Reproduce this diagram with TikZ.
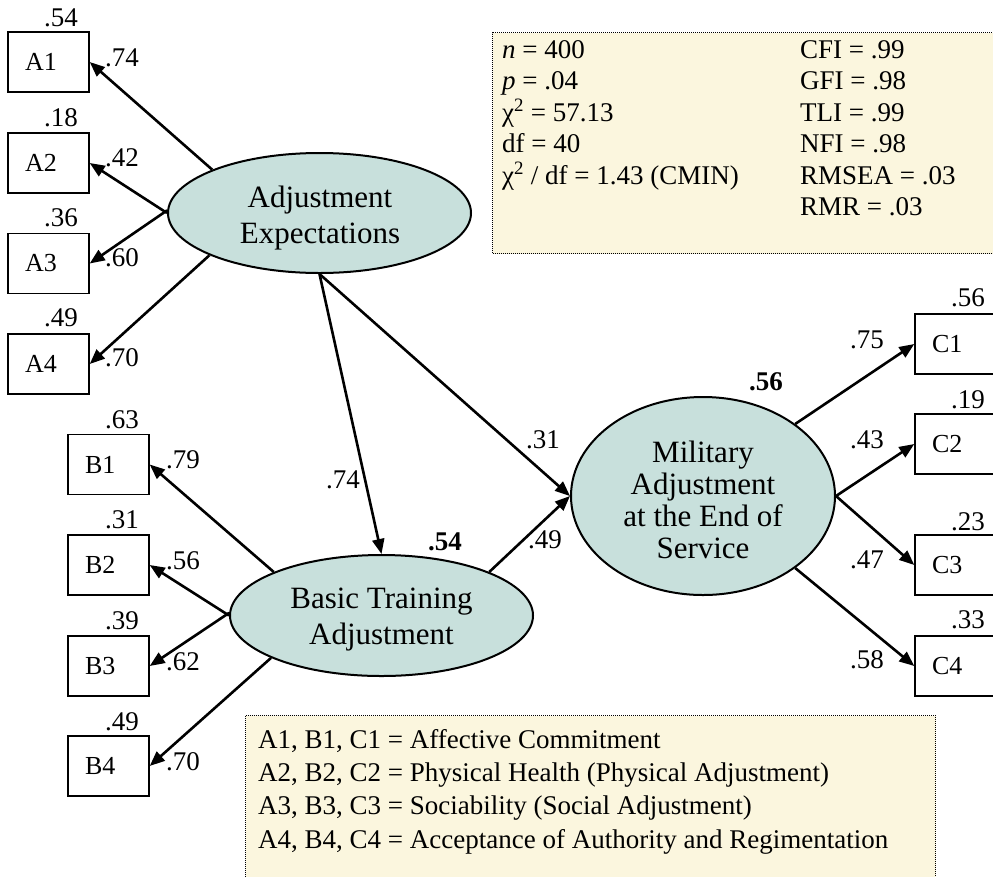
\documentclass[tikz,border=0pt]{standalone}
\usepackage{fontspec}
\setmainfont{Liberation Serif}
\usetikzlibrary{arrows.meta,shapes.geometric}
\definecolor{latfill}{RGB}{200,224,220}
\definecolor{boxfill}{RGB}{251,246,222}
\begin{document}
\begin{tikzpicture}[x=1pt,y=-1pt,
 obs/.style={draw, line width=1.4pt, minimum width=81pt, minimum height=60pt, inner xsep=17pt, inner ysep=0pt, text width=47pt, align=left, font=\fontsize{26}{30}\selectfont},
 lat/.style={ellipse, draw, line width=2pt, fill=latfill, inner sep=0pt},
 lattext/.style={inner sep=0pt, align=center, font=\fontsize{31}{36}\selectfont},
 coef/.style={font=\fontsize{27}{30}\selectfont, inner sep=0pt},
 bcoef/.style={font=\fontsize{27}{30}\selectfont\bfseries, inner sep=0pt},
 arr/.style={line width=2.6pt, -{Triangle[length=15pt,width=12pt]}},
 info/.style={draw, densely dotted, line width=1pt, fill=boxfill},
 txt/.style={font=\fontsize{27}{30}\selectfont, anchor=base west, inner sep=0pt}
]
\useasboundingbox (0,0) rectangle (993,876);
\clip (0,0) rectangle (993,876);
\fill[white] (0,0) rectangle (993,876);

% info boxes
\node[info, minimum width=530pt, minimum height=221pt, anchor=north west, inner sep=0pt] (stats) at (492,32) {};
\node[info, minimum width=690pt, minimum height=180pt, anchor=north west, inner sep=0pt] (legend) at (245,715) {};

\node[txt] (s1) at (502,58) {\textit{n} = 400};
\node[txt] (s2) at (502,89.5) {\textit{p} = .04};
\node[txt] (s3) at (502,121) {χ\textsuperscript{2} = 57.13};
\node[txt] (s4) at (502,152.5) {df = 40};
\node[txt] (s5) at (502,184) {χ\textsuperscript{2} / df = 1.43 (CMIN)};
\node[txt] (r1) at (800,58) {CFI = .99};
\node[txt] (r2) at (800,89.5) {GFI = .98};
\node[txt] (r3) at (800,121) {TLI = .99};
\node[txt] (r4) at (800,152.5) {NFI = .98};
\node[txt] (r5) at (800,184) {RMSEA = .03};
\node[txt] (r6) at (800,215.5) {RMR = .03};

\node[txt] (l1) at (258,748) {A1, B1, C1 = Affective Commitment};
\node[txt] (l2) at (258,781.3) {A2, B2, C2 = Physical Health (Physical Adjustment)};
\node[txt] (l3) at (258,814.6) {A3, B3, C3 = Sociability (Social Adjustment)};
\node[txt] (l4) at (258,848) {A4, B4, C4 = Acceptance of Authority and Regimentation};

% latent variables
\node[lat, minimum width=303pt, minimum height=120pt] (AE) at (319.5,213) {};
\node[lat, minimum width=303pt, minimum height=121pt] (BT) at (381.5,615.5) {};
\node[lat, minimum width=264pt, minimum height=198pt] (MA) at (703,496) {};
\node[lattext] (AEt) at (320,218) {Adjustment\\Expectations};
\node[lattext] (BTt) at (381.5,619.5) {Basic Training\\Adjustment};
\node[lattext, font=\fontsize{31}{32}\selectfont] (MAt) at (703,500) {Military\\Adjustment\\at the End of\\Service};

% observed variables
\node[obs] (A1) at (48.5,62) {A1};
\node[obs] (A2) at (48.5,163) {A2};
\node[obs] (A3) at (48.5,263.5) {A3};
\node[obs] (A4) at (48.5,364) {A4};
\node[obs] (B1) at (108.5,464.5) {B1};
\node[obs] (B2) at (108.5,565) {B2};
\node[obs] (B3) at (108.5,666) {B3};
\node[obs] (B4) at (108.5,766) {B4};
\node[obs] (C1) at (955.5,344) {C1};
\node[obs] (C2) at (955.5,444) {C2};
\node[obs] (C3) at (955.5,565) {C3};
\node[obs] (C4) at (955.5,666) {C4};

% loadings
\draw[arr] (AE.158.6) -- (A1.east);
\draw[arr] (AE.180.5) -- (A2.east);
\draw[arr] (AE.179.5) -- (A3.east);
\draw[arr] (AE.201.4) -- (A4.east);
\draw[arr] (BT.158.7) -- (B1.east);
\draw[arr] (BT.180.5) -- (B2.east);
\draw[arr] (BT.179.5) -- (B3.east);
\draw[arr] (BT.201.7) -- (B4.east);
\draw[arr] (MA.38.4) -- (C1.west);
\draw[arr] (MA.0.5) -- (C2.west);
\draw[arr] (MA.-0.5) -- (C3.west);
\draw[arr] (MA.-38.4) -- (C4.west);

% structural paths
\draw[arr] (AE.south) -- (BT.north);
\draw[arr] (AE.south) -- (MA.west);
\draw[arr] (BT.22.6) -- (MA.west);

% coefficient labels
\node[coef] (eA1) at (61,18) {.54};
\node[coef] (eA2) at (61,118) {.18};
\node[coef] (eA3) at (61,218) {.36};
\node[coef] (eA4) at (61,318) {.49};
\node[coef] (kA1) at (122,58) {.74};
\node[coef] (kA2) at (122,158) {.42};
\node[coef] (kA3) at (122,258) {.60};
\node[coef] (kA4) at (122,358) {.70};
\node[coef] (eB1) at (122,420) {.63};
\node[coef] (eB2) at (122,520) {.31};
\node[coef] (eB3) at (122,621) {.39};
\node[coef] (eB4) at (122,722) {.49};
\node[coef] (kB1) at (183,460) {.79};
\node[coef] (kB2) at (183,561) {.56};
\node[coef] (kB3) at (183,662) {.62};
\node[coef] (kB4) at (183,762) {.70};
\node[coef] (eC1) at (968,298) {.56};
\node[coef] (eC2) at (968,400) {.19};
\node[coef] (eC3) at (968,522) {.23};
\node[coef] (eC4) at (968,620) {.33};
\node[coef] (kC1) at (867,340) {.75};
\node[coef] (kC2) at (867,440) {.43};
\node[coef] (kC3) at (867,560) {.47};
\node[coef] (kC4) at (867,660) {.58};
\node[coef] (pAB) at (343,480) {.74};
\node[coef] (pAM) at (543,440) {.31};
\node[coef] (pBM) at (545,540) {.49};
\node[bcoef] (rBT) at (445,542) {.54};
\node[bcoef] (rMA) at (766,382) {.56};
\end{tikzpicture}
\end{document}
